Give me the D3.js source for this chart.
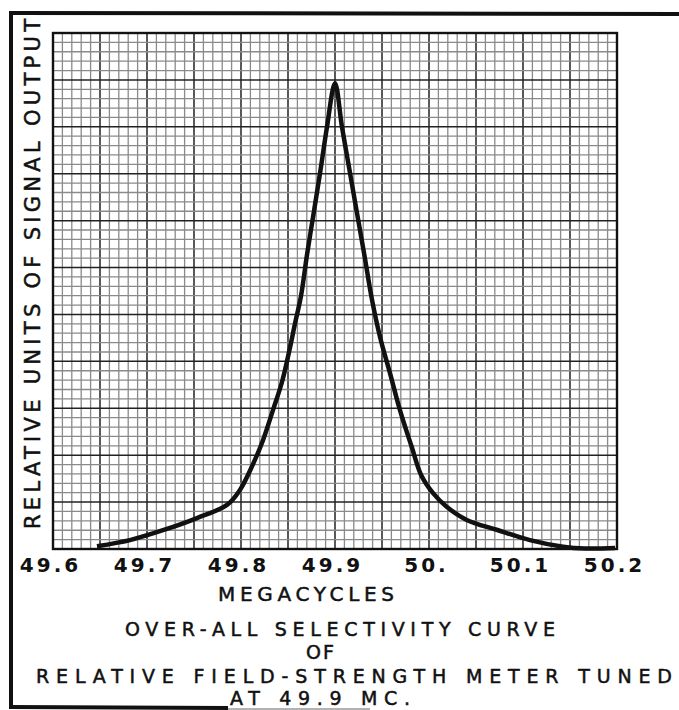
<!DOCTYPE html>
<html>
<head>
<meta charset="utf-8">
<script src="https://cdn.jsdelivr.net/npm/d3@7"></script>
<style>
  body { margin: 0; background: #fff; }
  svg { display: block; }
  text { font-family: "DejaVu Sans", sans-serif; fill: #111; }
</style>
</head>
<body>
<script>
// frequency in megacycles and relative units of signal output
var freq = [49.6468, 49.6819, 49.7170, 49.7532, 49.7851, 49.7989, 49.8128, 49.8234, 49.8340, 49.8436,
            49.8511, 49.8574, 49.8638, 49.8702, 49.8777, 49.8846, 49.8915, 49.9000,
            49.9074, 49.9154, 49.9234, 49.9314, 49.9394, 49.9479, 49.9585, 49.9691,
            49.9814, 49.9920, 50.0043, 50.0188, 50.0401, 50.0720, 50.1074, 50.1426, 50.1660, 50.1980];
var output = [0.06, 0.19, 0.40, 0.66, 0.94, 1.26, 1.81, 2.32, 2.96, 3.56,
              4.20, 4.80, 5.39, 6.27, 7.21, 8.08, 9.00, 9.93,
              9.00, 8.08, 7.16, 6.25, 5.31, 4.52, 3.75, 2.96,
              2.19, 1.56, 1.19, 0.90, 0.62, 0.41, 0.19, 0.05, 0.01, 0.02];

var tickValues = [49.6, 49.7, 49.8, 49.9, 50.0, 50.1, 50.2];
var tickLabels = ["49.6", "49.7", "49.8", "49.9", "50.", "50.1", "50.2"];

var yLabel = "RELATIVE UNITS OF SIGNAL OUTPUT";
var xLabel = "MEGACYCLES";
var caption = ["OVER-ALL SELECTIVITY CURVE", "OF", "RELATIVE FIELD-STRENGTH METER TUNED", "AT 49.9 MC."];

var w = 679, h = 710;
var svg = d3.select("body").append("svg").attr("width", w).attr("height", h);

var x = d3.scaleLinear().domain([49.6, 50.2]).range([53, 617]),
    y = d3.scaleLinear().domain([0, 11]).range([549, 33]);

// graph paper: 5 minor squares per major square
var xMinor = d3.range(0, 61).map(function (i) { return 49.6 + i * 0.01; }),
    yMinor = d3.range(0, 56).map(function (i) { return i * 0.2; });

var grid = svg.append("g");
grid.selectAll(".vx").data(xMinor).enter().append("line")
  .attr("x1", function (d) { return x(d); }).attr("x2", function (d) { return x(d); })
  .attr("y1", y(0)).attr("y2", y(11))
  .attr("stroke", function (d, i) { return i % 5 ? "#8a8a8a" : "#222"; })
  .attr("stroke-width", function (d, i) { return i % 5 ? 1.3 : 1.5; });
grid.selectAll(".hy").data(yMinor).enter().append("line")
  .attr("y1", function (d) { return y(d); }).attr("y2", function (d) { return y(d); })
  .attr("x1", x(49.6)).attr("x2", x(50.2))
  .attr("stroke", function (d, i) { return i % 5 ? "#8a8a8a" : "#222"; })
  .attr("stroke-width", function (d, i) { return i % 5 ? 1.3 : 1.5; });

svg.append("rect")
  .attr("x", x(49.6)).attr("y", y(11))
  .attr("width", x(50.2) - x(49.6)).attr("height", y(0) - y(11))
  .attr("fill", "none").attr("stroke", "#111").attr("stroke-width", 2.4);

// curve
var line = d3.line()
  .x(function (d, i) { return x(freq[i]); })
  .y(function (d) { return y(d); })
  .curve(d3.curveCatmullRom.alpha(0.5));

svg.append("path")
  .attr("d", line(output))
  .attr("fill", "none")
  .attr("stroke", "#111")
  .attr("stroke-width", 4.5)
  .attr("stroke-linejoin", "round")
  .attr("stroke-linecap", "butt");

// x tick labels
var axis = d3.axisBottom(x)
  .tickValues(tickValues)
  .tickSize(0)
  .tickPadding(0)
  .tickFormat(function (d, i) { return tickLabels[i]; });

var ax = svg.append("g").attr("transform", "translate(0,572)").call(axis);
ax.select(".domain").remove();
ax.selectAll("text")
  .attr("dy", 0)
  .attr("dx", -3)
  .style("font-family", "'DejaVu Sans', sans-serif")
  .style("font-size", "20px")
  .style("font-weight", "bold")
  .style("letter-spacing", "3px")
  .attr("fill", "#111");

// axis titles
svg.append("text")
  .attr("transform", "translate(40,529) rotate(-90)")
  .attr("textLength", 510)
  .attr("lengthAdjust", "spacing")
  .attr("stroke", "#111").attr("stroke-width", 0.5)
  .style("font-size", "21px")
  .text(yLabel);

svg.append("text")
  .attr("x", 218).attr("y", 601)
  .attr("textLength", 176)
  .attr("lengthAdjust", "spacing")
  .attr("stroke", "#111").attr("stroke-width", 0.5)
  .style("font-size", "20px")
  .text(xLabel);

var capPos = [[125, 636, 430], [306, 659, 28], [36, 683, 636], [230, 705, 180]];
svg.selectAll(".cap").data(caption).enter().append("text")
  .attr("x", function (d, i) { return capPos[i][0]; })
  .attr("y", function (d, i) { return capPos[i][1]; })
  .attr("textLength", function (d, i) { return capPos[i][2]; })
  .attr("lengthAdjust", "spacing")
  .attr("stroke", "#111").attr("stroke-width", 0.5)
  .style("font-size", "19px")
  .text(function (d) { return d; });

// page frame
var frame = svg.append("g").attr("stroke", "#111").attr("fill", "none");
frame.append("line").attr("x1", 9).attr("y1", 13).attr("x2", 679).attr("y2", 14).attr("stroke-width", 4);
frame.append("line").attr("x1", 11).attr("y1", 12).attr("x2", 11).attr("y2", 708).attr("stroke-width", 4);
frame.append("line").attr("x1", 9).attr("y1", 707).attr("x2", 228).attr("y2", 708).attr("stroke-width", 4);
frame.append("line").attr("x1", 228).attr("y1", 709).attr("x2", 370).attr("y2", 709)
  .attr("stroke", "#999").attr("stroke-width", 1.5);
</script>
</body>
</html>
